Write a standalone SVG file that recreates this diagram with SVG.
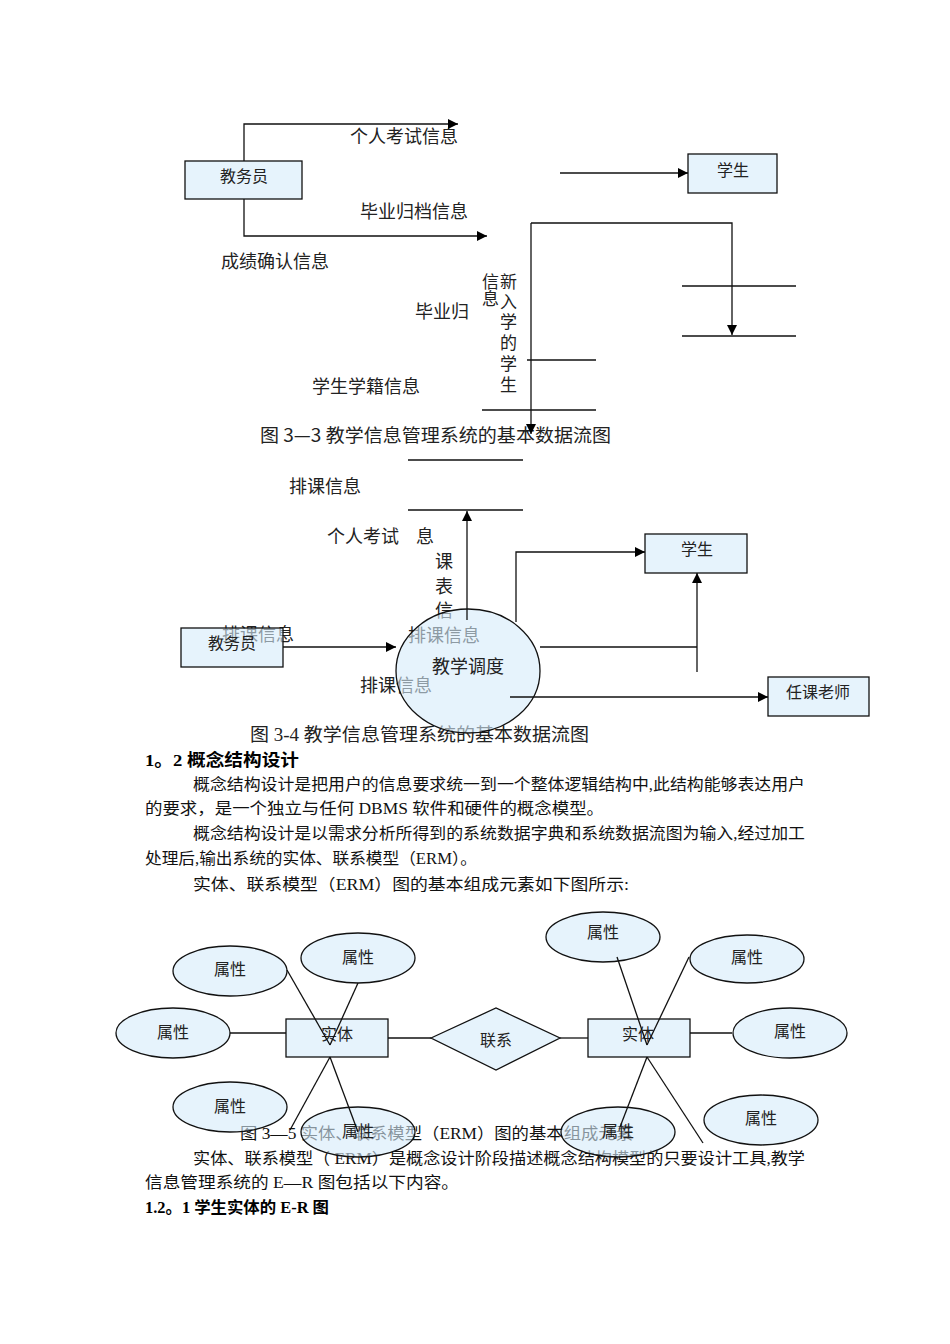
<svg xmlns="http://www.w3.org/2000/svg" width="950" height="1344" viewBox="0 0 950 1344">
<style>
.lbl{font-family:"Noto Sans CJK SC","Liberation Sans",sans-serif;font-size:18px;fill:#222}
.v17{font-size:17px}
.nl{font-family:"Noto Sans CJK SC","Liberation Sans",sans-serif;font-size:16px;fill:#222;text-anchor:middle}
.big{font-size:18px}
.body{font-family:"Liberation Serif","Noto Sans CJK SC",serif;font-size:16px;fill:#111}
.hd{font-family:"Liberation Serif","Noto Sans CJK SC",serif;font-size:16px;font-weight:bold;fill:#000}
.hd17{font-size:17px}
.cap{font-family:"Liberation Serif","Noto Sans CJK SC",serif;font-size:18px;fill:#222}
.capsans{font-family:"Noto Sans CJK SC","Liberation Sans",sans-serif}
.box{fill:#d5ebfa;fill-opacity:0.6;stroke:#111;stroke-width:1.3}
.ln{fill:none;stroke:#111;stroke-width:1.3}
.arr{fill:none;stroke:#111;stroke-width:1.3;marker-end:url(#ah)}
</style>
<defs>
<marker id="ah" viewBox="0 0 10 10" refX="10" refY="5" markerWidth="12" markerHeight="10" markerUnits="userSpaceOnUse" orient="auto">
<path d="M0,0 L10,5 L0,10 z" fill="#000"/>
</marker>
</defs>
<rect width="950" height="1344" fill="#fff"/>

<g id="texts">
<text class="lbl" x="350" y="143">个人考试信息</text>
<text class="lbl" x="360" y="218">毕业归档信息</text>
<text class="lbl" x="221" y="268">成绩确认信息</text>
<text class="lbl v17" x="482" y="288">信</text>
<text class="lbl v17" x="482" y="305">息</text>
<text class="lbl v17" x="500" y="288">新</text>
<text class="lbl v17" x="500" y="308">入</text>
<text class="lbl v17" x="500" y="328">学</text>
<text class="lbl v17" x="500" y="349">的</text>
<text class="lbl v17" x="500" y="370">学</text>
<text class="lbl v17" x="500" y="391">生</text>
<text class="lbl" x="415" y="318">毕业归</text>
<text class="lbl" x="312" y="393">学生学籍信息</text>
<text class="cap capsans" x="260" y="442" textLength="351" lengthAdjust="spacingAndGlyphs">图 3—3 教学信息管理系统的基本数据流图</text>
<text class="lbl" x="289" y="493">排课信息</text>
<text class="lbl" x="327" y="543">个人考试</text>
<text class="lbl" x="416" y="543">息</text>
<text class="lbl" x="435" y="568">课</text>
<text class="lbl" x="435" y="593">表</text>
<text class="lbl" x="435" y="617">信</text>
<text class="lbl" x="222" y="641">排课信息</text>
<text class="lbl" x="408" y="642">排课信息</text>
<text class="lbl" x="360" y="692">排课信息</text>
<text class="cap" x="250" y="741" textLength="339" lengthAdjust="spacingAndGlyphs">图 3-4 教学信息管理系统的基本数据流图</text>
<text class="hd hd17" x="145" y="766" textLength="154" lengthAdjust="spacingAndGlyphs">1。2 概念结构设计</text>
<text class="body" x="193" y="790" textLength="612" lengthAdjust="spacingAndGlyphs">概念结构设计是把用户的信息要求统一到一个整体逻辑结构中,此结构能够表达用户</text>
<text class="body" x="145" y="814" textLength="459" lengthAdjust="spacingAndGlyphs">的要求，是一个独立与任何 DBMS 软件和硬件的概念模型。</text>
<text class="body" x="193" y="839" textLength="612" lengthAdjust="spacingAndGlyphs">概念结构设计是以需求分析所得到的系统数据字典和系统数据流图为输入,经过加工</text>
<text class="body" x="145" y="864" textLength="332" lengthAdjust="spacingAndGlyphs">处理后,输出系统的实体、联系模型（ERM）。</text>
<text class="body" x="193" y="890" textLength="436" lengthAdjust="spacingAndGlyphs">实体、联系模型（ERM）图的基本组成元素如下图所示:</text>
<text class="body" x="240" y="1139" textLength="393" lengthAdjust="spacingAndGlyphs">图 3—5 实体、联系模型（ERM）图的基本组成元素</text>
<text class="body" x="193" y="1164" textLength="612" lengthAdjust="spacingAndGlyphs">实体、联系模型（ ERM）是概念设计阶段描述概念结构模型的只要设计工具,教学</text>
<text class="body" x="145" y="1188" textLength="314" lengthAdjust="spacingAndGlyphs">信息管理系统的 E—R 图包括以下内容。</text>
<text class="hd" x="145" y="1213" textLength="184" lengthAdjust="spacingAndGlyphs">1.2。1 学生实体的 E-R 图</text>
</g>

<g id="dfd1-jiaowuyuan"><rect class="box" x="185" y="161" width="117" height="38"/><text class="nl" x="244" y="182">教务员</text></g>
<g id="dfd1-xuesheng"><rect class="box" x="688" y="154" width="89" height="39"/><text class="nl" x="733" y="176">学生</text></g>

<g id="dfd2-jiaowuyuan"><rect class="box" x="181" y="628" width="102" height="39"/><text class="nl" x="232" y="649">教务员</text></g>
<g id="dfd2-xuesheng"><rect class="box" x="645" y="534" width="102" height="39"/><text class="nl" x="697" y="555">学生</text></g>
<g id="dfd2-jiaoxuediaodu"><ellipse class="box" cx="468" cy="671" rx="72" ry="62"/><text class="nl big" x="468" y="673">教学调度</text></g>
<g id="dfd2-renkelaoshi"><rect class="box" x="768" y="677" width="101" height="39"/><text class="nl" x="818" y="698">任课老师</text></g>

<g id="er-entity1"><rect class="box" x="286" y="1019" width="102" height="38"/><text class="nl" x="337" y="1040">实体</text></g>
<g id="er-relation"><polygon class="box" points="431,1038 496,1008 560,1038 496,1070"/><text class="nl" x="496" y="1046">联系</text></g>
<g id="er-entity2"><rect class="box" x="588" y="1019" width="102" height="38"/><text class="nl" x="638" y="1040">实体</text></g>
<g id="er-attr-l1"><ellipse class="box" cx="230" cy="971" rx="57" ry="25"/><text class="nl" x="230" y="975">属性</text></g>
<g id="er-attr-l2"><ellipse class="box" cx="358" cy="958" rx="57" ry="25"/><text class="nl" x="358" y="963">属性</text></g>
<g id="er-attr-l3"><ellipse class="box" cx="173" cy="1033" rx="57" ry="25"/><text class="nl" x="173" y="1038">属性</text></g>
<g id="er-attr-l4"><ellipse class="box" cx="230" cy="1107" rx="57" ry="25"/><text class="nl" x="230" y="1112">属性</text></g>
<g id="er-attr-l5"><ellipse class="box" cx="358" cy="1132" rx="57" ry="25"/><text class="nl" x="358" y="1137">属性</text></g>
<g id="er-attr-r1"><ellipse class="box" cx="603" cy="937" rx="57" ry="25"/><text class="nl" x="603" y="938">属性</text></g>
<g id="er-attr-r2"><ellipse class="box" cx="747" cy="959" rx="57" ry="24"/><text class="nl" x="747" y="963">属性</text></g>
<g id="er-attr-r3"><ellipse class="box" cx="790" cy="1033" rx="57" ry="25"/><text class="nl" x="790" y="1037">属性</text></g>
<g id="er-attr-r4"><ellipse class="box" cx="761" cy="1120" rx="57" ry="25"/><text class="nl" x="761" y="1124">属性</text></g>
<g id="er-attr-r5"><ellipse class="box" cx="618" cy="1132" rx="57" ry="25"/><text class="nl" x="618" y="1137">属性</text></g>

<g id="connectors">
<polyline class="arr" points="244,161 244,124 458,124"/>
<polyline class="arr" points="244,199 244,236 487,236"/>
<line class="arr" x1="560" y1="173" x2="688" y2="173"/>
<polyline class="arr" points="531,223 732,223 732,335"/>
<line class="arr" x1="531" y1="223" x2="531" y2="434"/>
<line class="ln" x1="682" y1="286" x2="796" y2="286"/>
<line class="ln" x1="682" y1="336" x2="796" y2="336"/>
<line class="ln" x1="527" y1="360" x2="596" y2="360"/>
<line class="ln" x1="482" y1="410" x2="596" y2="410"/>
<line class="ln" x1="408" y1="460" x2="523" y2="460"/>
<line class="ln" x1="408" y1="510" x2="523" y2="510"/>
<line class="arr" x1="467" y1="620" x2="467" y2="511"/>
<polyline class="arr" points="516,622 516,552 645,552"/>
<line class="arr" x1="283" y1="647" x2="396" y2="647"/>
<line class="ln" x1="540" y1="647" x2="697" y2="647"/>
<line class="arr" x1="697" y1="672" x2="697" y2="573"/>
<line class="arr" x1="510" y1="697" x2="768" y2="697"/>
<line class="ln" x1="287" y1="970" x2="330" y2="1045"/>
<line class="ln" x1="358" y1="983" x2="330" y2="1045"/>
<line class="ln" x1="230" y1="1033" x2="286" y2="1033"/>
<line class="ln" x1="330" y1="1057" x2="290" y2="1130"/>
<line class="ln" x1="330" y1="1057" x2="358" y2="1132"/>
<line class="ln" x1="388" y1="1038" x2="431" y2="1038"/>
<line class="ln" x1="560" y1="1038" x2="588" y2="1038"/>
<line class="ln" x1="617" y1="957" x2="647" y2="1045"/>
<line class="ln" x1="689" y1="957" x2="647" y2="1045"/>
<line class="ln" x1="690" y1="1033" x2="732" y2="1033"/>
<line class="ln" x1="647" y1="1057" x2="620" y2="1127"/>
<line class="ln" x1="647" y1="1057" x2="703" y2="1143"/>
</g>
</svg>
